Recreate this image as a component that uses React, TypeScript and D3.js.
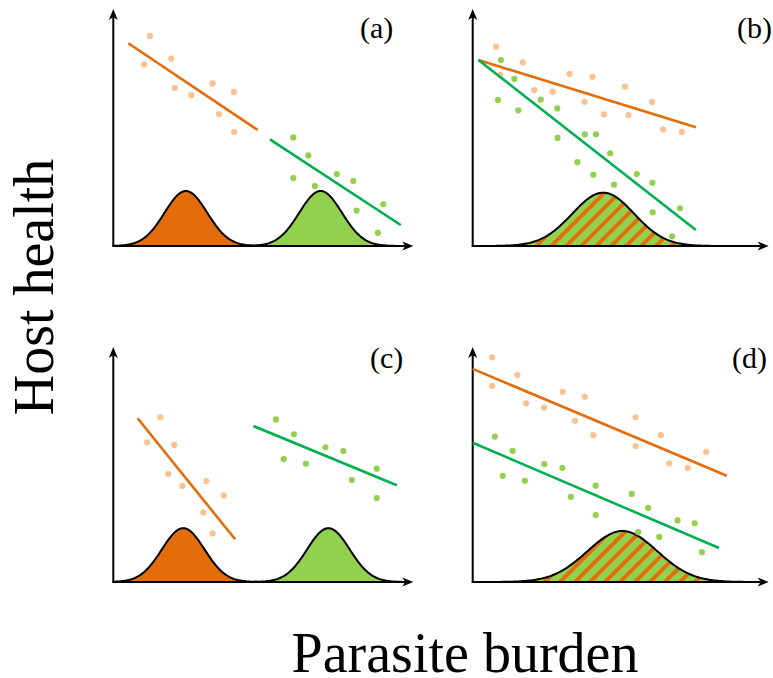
import React from 'react';
import * as d3 from 'd3';

type Pt = [number, number];
type Seg = [Pt, Pt];
type Density = { mean: number; sd: number; peak: number };

// ---- Panel (a): two separate groups ----
const aOrangePts: Pt[] = [[12.2, 89], [10.3, 77], [19.3, 79.4], [20.5, 67], [26, 63.9], [33.1, 68.9], [40.2, 65.3], [35.2, 55.9], [40.3, 48.3]];
const aOrangeLine: Seg = [[5, 85.9], [48.1, 49.2]];
const aGreenPts: Pt[] = [[60, 46], [65, 38.4], [60, 28.8], [67.2, 25.4], [74.5, 30.5], [80, 27.5], [81.1, 15], [90, 17.7], [88.2, 5.6]];
const aGreenLine: Seg = [[52.2, 45.2], [95.8, 8.9]];
const aOrangeDensity: Density = { mean: 24.2, sd: 7.1, peak: 23.3 };
const aGreenDensity: Density = { mean: 69.1, sd: 7.1, peak: 23.3 };

// ---- Panel (b): shared distribution, different slopes ----
const bOrangePts: Pt[] = [[7.8, 84.4], [16.7, 77.8], [9.1, 72.5], [20.5, 66.1], [26.7, 65.4], [32.3, 72.9], [39.9, 71.7], [37.3, 61.1], [43.8, 55.8], [50.8, 67.5], [51.9, 55.5], [59.8, 61], [63.5, 49.4], [69.7, 48.4]];
const bOrangeLine: Seg = [[1.9, 78.8], [74.4, 50.3]];
const bGreenPts: Pt[] = [[9.4, 78.8], [13.9, 70.8], [8.4, 61.9], [15.2, 57.5], [22.7, 62], [28.2, 58.3], [28.3, 45.8], [37.4, 47.3], [41.1, 47.3], [45.8, 39.3], [34.9, 35.5], [40.2, 30.2], [47.1, 26], [54.7, 30.5], [59.9, 26.8], [60, 14.3], [69.1, 16], [66.5, 4.1]];
const bGreenLine: Seg = [[1.9, 78.8], [74.4, 6.8]];
const bSharedDensity: Density = { mean: 43.5, sd: 10.3, peak: 22.6 };

// ---- Panel (c): two separate groups, different slopes ----
const cOrangePts: Pt[] = [[15.7, 69.8], [11.3, 59.2], [20.3, 58.1], [18.3, 45.8], [23, 40.7], [31, 42.8], [36.8, 36.6], [30, 29.5], [33.1, 20.6]];
const cOrangeLine: Seg = [[8.1, 69.4], [40.6, 18.1]];
const cGreenPts: Pt[] = [[54.2, 68.9], [60.2, 62.6], [56.8, 52.1], [64.2, 50.1], [70.7, 57.1], [76.7, 55.5], [79.5, 43.2], [87.8, 48], [87.8, 35.6]];
const cGreenLine: Seg = [[46.7, 66.1], [94.5, 41]];
const cOrangeDensity: Density = { mean: 23.3, sd: 7.1, peak: 22.8 };
const cGreenDensity: Density = { mean: 71.7, sd: 7.1, peak: 22.8 };

// ---- Panel (d): shared distribution, parallel slopes ----
const dOrangePts: Pt[] = [[6.5, 95.2], [6.5, 83.1], [14.9, 87.7], [17.8, 75.7], [23.8, 73.9], [30, 80.6], [37.4, 78.5], [34.1, 68.3], [40.2, 62.2], [54.3, 69.8], [54.3, 57.6], [62.7, 62.2], [65.5, 50.3], [71.7, 48.4], [77.8, 55.2]];
const dOrangeLine: Seg = [[0, 90.3], [84.7, 45]];
const dGreenPts: Pt[] = [[7.4, 61.6], [13.3, 55.6], [10, 45], [17.4, 42.9], [23.9, 50], [29.9, 48.4], [32.7, 36.1], [41, 40.8], [41, 28.4], [53, 37.3], [58.5, 31.4], [55.2, 21.1], [62.2, 19.1], [68.3, 26.1], [74, 24.9], [76.4, 12.7]];
const dGreenLine: Seg = [[0, 59], [82.1, 14.4]];
const dSharedDensity: Density = { mean: 49.9, sd: 11.6, peak: 21.6 };

const panelLabels = ['(a)', '(b)', '(c)', '(d)'];
const yTitle = 'Host health';
const xTitle = 'Parasite burden';

const ORANGE_DARK = '#E46C0A';
const ORANGE_LIGHT = '#FAC191';
const GREEN_LIGHT = '#92D050';
const GREEN_LINE = '#00B050';
const FONT = "'Liberation Serif', 'DejaVu Serif', serif";

const W = 773;
const H = 678;

type DensitySpec = { d: Density; fill: string };
type PanelSpec = {
  label: string;
  ox: number; oy: number; xLen: number; yLen: number;
  labelX: number; labelY: number;
  densities: DensitySpec[];
  orangePts: Pt[]; greenPts: Pt[];
  orangeLine: Seg; greenLine: Seg;
};

const panels: PanelSpec[] = [
  { label: panelLabels[0], ox: 113.3, oy: 246, xLen: 300, yLen: 237, labelX: 360, labelY: 38,
    densities: [{ d: aOrangeDensity, fill: ORANGE_DARK }, { d: aGreenDensity, fill: GREEN_LIGHT }],
    orangePts: aOrangePts, greenPts: aGreenPts, orangeLine: aOrangeLine, greenLine: aGreenLine },
  { label: panelLabels[1], ox: 472.7, oy: 246, xLen: 296, yLen: 237, labelX: 737, labelY: 38,
    densities: [{ d: bSharedDensity, fill: 'url(#hatch)' }],
    orangePts: bOrangePts, greenPts: bGreenPts, orangeLine: bOrangeLine, greenLine: bGreenLine },
  { label: panelLabels[2], ox: 113.3, oy: 582, xLen: 300, yLen: 235, labelX: 370, labelY: 368,
    densities: [{ d: cOrangeDensity, fill: ORANGE_DARK }, { d: cGreenDensity, fill: GREEN_LIGHT }],
    orangePts: cOrangePts, greenPts: cGreenPts, orangeLine: cOrangeLine, greenLine: cGreenLine },
  { label: panelLabels[3], ox: 472.7, oy: 582, xLen: 296, yLen: 235, labelX: 732, labelY: 368,
    densities: [{ d: dSharedDensity, fill: 'url(#hatch)' }],
    orangePts: dOrangePts, greenPts: dGreenPts, orangeLine: dOrangeLine, greenLine: dGreenLine },
];

function densityCurve(d: Density): Pt[] {
  const lo = Math.max(0, d.mean - 3.8 * d.sd);
  const hi = Math.min(100, d.mean + 3.8 * d.sd);
  const step = (hi - lo) / 150;
  return d3.range(0, 151).map((i) => {
    const x = lo + i * step;
    return [x, d.peak * Math.exp(-0.5 * ((x - d.mean) / d.sd) ** 2)] as Pt;
  });
}

function Panel({ p }: { p: PanelSpec }) {
  const x = d3.scaleLinear().domain([0, 100]).range([p.ox, p.ox + 300]);
  const y = d3.scaleLinear().domain([0, 100]).range([p.oy, p.oy - 236]);
  const area = d3.area<Pt>().x((v) => x(v[0])).y0(y(0)).y1((v) => y(v[1]));
  const line = d3.line<Pt>().x((v) => x(v[0])).y((v) => y(v[1]));

  const top = p.oy - p.yLen;
  const right = p.ox + p.xLen;
  const head = 11;
  const half = 4.5;
  const notch = 8;

  return (
    <g>
      {p.densities.map((s, i) => {
        const pts = densityCurve(s.d);
        return (
          <g key={i}>
            <path d={area(pts) || ''} fill={s.fill} stroke="none" />
            <path d={line(pts) || ''} fill="none" stroke="#000" strokeWidth={2} strokeLinejoin="round" />
          </g>
        );
      })}

      {/* axes with filled arrowheads */}
      <line x1={p.ox} y1={p.oy} x2={p.ox} y2={top + notch} stroke="#000" strokeWidth={2} />
      <line x1={p.ox - 1} y1={p.oy} x2={right - notch} y2={p.oy} stroke="#000" strokeWidth={2} />
      <path d={`M${p.ox},${top} L${p.ox - half},${top + head} L${p.ox},${top + notch} L${p.ox + half},${top + head} Z`} fill="#000" />
      <path d={`M${right},${p.oy} L${right - head},${p.oy - half} L${right - notch},${p.oy} L${right - head},${p.oy + half} Z`} fill="#000" />

      {p.orangePts.map((v, i) => (
        <circle key={`o${i}`} cx={x(v[0])} cy={y(v[1])} r={3.1} fill={ORANGE_LIGHT} />
      ))}
      {p.greenPts.map((v, i) => (
        <circle key={`g${i}`} cx={x(v[0])} cy={y(v[1])} r={3.1} fill={GREEN_LIGHT} />
      ))}

      <path d={line(p.orangeLine) || ''} stroke={ORANGE_DARK} strokeWidth={2.6} fill="none" />
      <path d={line(p.greenLine) || ''} stroke={GREEN_LINE} strokeWidth={2.6} fill="none" />

      <text x={p.labelX} y={p.labelY} style={{ fontFamily: FONT, fontSize: 30 }} fill="#000">{p.label}</text>
    </g>
  );
}

export default function App() {
  return (
    <svg
      width={W}
      height={H}
      viewBox={`0 0 ${W} ${H}`}
      style={{ position: 'absolute', left: 0, top: 0, display: 'block', background: '#fff' }}
    >
      <defs>
        <pattern id="hatch" patternUnits="userSpaceOnUse" width={10.6} height={10.6} patternTransform="rotate(45)">
          <rect x={0} y={0} width={10.6} height={10.6} fill={GREEN_LIGHT} />
          <rect x={0} y={0} width={3.8} height={10.6} fill={ORANGE_DARK} />
        </pattern>
      </defs>
      <rect x={0} y={0} width={W} height={H} fill="#fff" />
      {panels.map((p) => (
        <Panel key={p.label} p={p} />
      ))}
      <text
        transform="translate(53,287) rotate(-90)"
        textAnchor="middle"
        style={{ fontFamily: FONT, fontSize: 56 }}
        fill="#000"
      >
        {yTitle}
      </text>
      <text x={465} y={672} textAnchor="middle" style={{ fontFamily: FONT, fontSize: 56 }} fill="#000">
        {xTitle}
      </text>
    </svg>
  );
}
